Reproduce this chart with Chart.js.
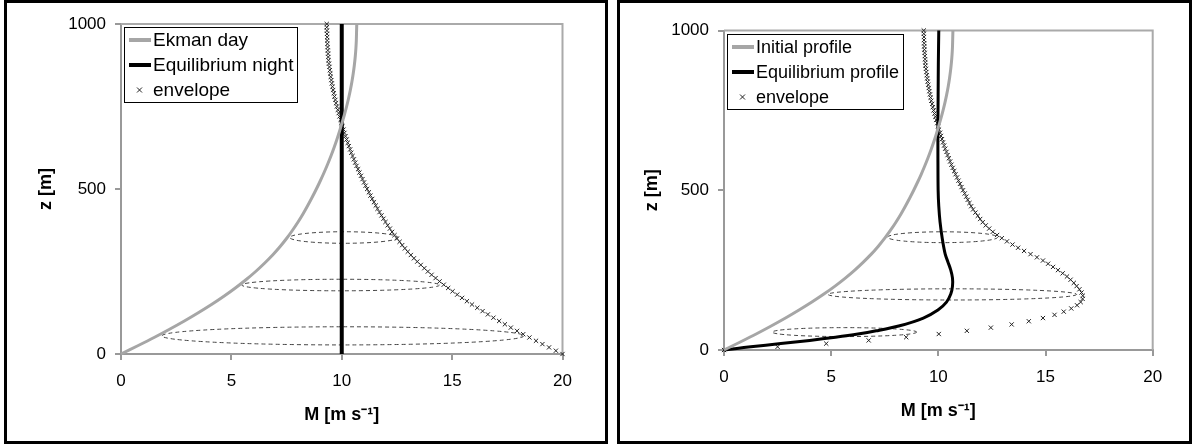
<!DOCTYPE html>
<html>
<head>
<meta charset="utf-8">
<script src="https://cdn.jsdelivr.net/npm/chart.js@4.4.0/dist/chart.umd.min.js"></script>
<style>
  html, body { margin: 0; padding: 0; background: #fff; }
  .panel { position: absolute; top: 0; height: 438px; border: 3px solid #000; background: #fff; }
  #leftBox { left: 4px; width: 598px; }
  #rightBox { left: 617px; width: 569px; }
  canvas { display: block; }
</style>
</head>
<body>
<div class="panel" id="leftBox"><canvas id="leftChart" width="598" height="438"></canvas></div>
<div class="panel" id="rightBox"><canvas id="rightChart" width="569" height="438"></canvas></div>
<script>
// tick values
const mTicks = [0, 5, 10, 15, 20];
const zTicks = [0, 500, 1000];

// heights for the smooth profiles (m)
const zLine = [0, 25, 50, 75, 100, 125, 150, 175, 200, 225, 250, 275, 300, 325, 350, 375, 400, 425, 450, 475,
  500, 525, 550, 575, 600, 625, 650, 675, 700, 725, 750, 775, 800, 825, 850, 875, 900, 925, 950, 975, 1000];
// Ekman day / initial profile (m/s)
const ekmanDay = [0, 0.76, 1.5, 2.2, 2.87, 3.5, 4.1, 4.66, 5.18, 5.66, 6.1, 6.5, 6.87, 7.2, 7.5, 7.77, 8.02, 8.25, 8.46, 8.66,
  8.85, 9.03, 9.2, 9.36, 9.51, 9.65, 9.78, 9.9, 10.01, 10.12, 10.22, 10.31, 10.39, 10.46, 10.52, 10.57, 10.61, 10.64, 10.66, 10.67, 10.68];

// equilibrium night (left)
const nightZ = [0, 1000];
const nightM = [10, 10];

// equilibrium profile (right)
const eqZ = [0, 5, 10, 20, 30, 40, 50, 60, 75, 100, 125, 150, 175, 200, 225, 250, 275, 300, 350, 400, 450, 500, 600, 700, 800, 900, 1000];
const eqM = [0, 0.6, 1.25, 2.65, 4.0, 5.2, 6.25, 7.1, 8.15, 9.3, 9.98, 10.38, 10.58, 10.66, 10.66, 10.58, 10.45, 10.32, 10.18, 10.08, 10.02, 9.99, 9.98, 9.98, 9.99, 10.0, 10.02];

// envelope heights (every 10 m)
const zEnv = [0, 10, 20, 30, 40, 50, 60, 70, 80, 90, 100, 110, 120, 130, 140, 150, 160, 170, 180, 190,
  200, 210, 220, 230, 240, 250, 260, 270, 280, 290, 300, 310, 320, 330, 340, 350, 360, 370, 380, 390,
  400, 410, 420, 430, 440, 450, 460, 470, 480, 490, 500, 510, 520, 530, 540, 550, 560, 570, 580, 590,
  600, 610, 620, 630, 640, 650, 660, 670, 680, 690, 700, 710, 720, 730, 740, 750, 760, 770, 780, 790,
  800, 810, 820, 830, 840, 850, 860, 870, 880, 890, 900, 910, 920, 930, 940, 950, 960, 970, 980, 990, 1000];
const envelopeLeft = [20, 19.7, 19.39, 19.09, 18.8, 18.5, 18.22, 17.94, 17.66, 17.39,
  17.13, 16.87, 16.62, 16.38, 16.14, 15.9, 15.67, 15.45, 15.23, 15.02,
  14.82, 14.62, 14.43, 14.25, 14.07, 13.9, 13.74, 13.58, 13.42, 13.27,
  13.13, 12.99, 12.86, 12.74, 12.62, 12.5, 12.39, 12.28, 12.18, 12.08,
  11.98, 11.89, 11.8, 11.71, 11.62, 11.54, 11.46, 11.38, 11.3, 11.23,
  11.15, 11.08, 11.01, 10.94, 10.87, 10.8, 10.74, 10.67, 10.61, 10.55,
  10.49, 10.43, 10.38, 10.32, 10.27, 10.22, 10.17, 10.12, 10.08, 10.03,
  9.99, 9.95, 9.9, 9.86, 9.82, 9.78, 9.74, 9.71, 9.67, 9.64,
  9.61, 9.58, 9.55, 9.53, 9.5, 9.48, 9.46, 9.44, 9.42, 9.4,
  9.39, 9.38, 9.37, 9.36, 9.35, 9.34, 9.34, 9.33, 9.33, 9.32, 9.32];
const envelopeRight = [0, 2.5, 4.77, 6.75, 8.5, 10.02, 11.33, 12.45, 13.42, 14.22,
  14.88, 15.42, 15.85, 16.2, 16.47, 16.64, 16.73, 16.74, 16.68, 16.58,
  16.45, 16.32, 16.17, 16.0, 15.8, 15.58, 15.35, 15.12, 14.88, 14.6,
  14.3, 14.0, 13.72, 13.46, 13.2, 12.96, 12.74, 12.54, 12.37, 12.21,
  12.07, 11.95, 11.84, 11.73, 11.62, 11.53, 11.45, 11.37, 11.3, 11.23,
  11.15, 11.08, 11.01, 10.94, 10.87, 10.8, 10.74, 10.67, 10.61, 10.55,
  10.49, 10.43, 10.38, 10.32, 10.27, 10.22, 10.17, 10.12, 10.08, 10.03,
  9.99, 9.95, 9.9, 9.86, 9.82, 9.78, 9.74, 9.71, 9.67, 9.64,
  9.61, 9.58, 9.55, 9.53, 9.5, 9.48, 9.46, 9.44, 9.42, 9.4,
  9.39, 9.38, 9.37, 9.36, 9.35, 9.34, 9.34, 9.33, 9.33, 9.32, 9.32];

// dashed ellipses: centre (M, z) and half sizes
const leftEllM = [10.1, 9.95, 10.05];
const leftEllZ = [353, 209, 55];
const leftEllHalfM = [2.45, 4.48, 8.2];
const leftEllHalfZ = [17.5, 17.5, 27.5];
const rightEllM = [10.2, 10.65, 5.62];
const rightEllZ = [353, 174, 56];
const rightEllHalfM = [2.57, 5.8, 3.37];
const rightEllHalfZ = [17, 17.5, 14];

const FONT = "'Liberation Sans', Arial, sans-serif";

function pts(xs, ys) {
  return xs.map((x, i) => ({x: x, y: ys[i]}));
}

const ellipsePlugin = {
  id: 'ellipses',
  beforeDatasetsDraw(chart, args, opts) {
    const {ctx, scales: {x, y}} = chart;
    ctx.save();
    ctx.strokeStyle = '#444';
    ctx.lineWidth = 1;
    ctx.setLineDash([4, 3]);
    opts.m.forEach((m, i) => {
      const cx = x.getPixelForValue(m);
      const cy = y.getPixelForValue(opts.z[i]);
      const rx = x.getPixelForValue(m + opts.dm[i]) - cx;
      const ry = cy - y.getPixelForValue(opts.z[i] + opts.dz[i]);
      ctx.beginPath();
      ctx.ellipse(cx, cy, rx, ry, 0, 0, Math.PI * 2);
      ctx.stroke();
    });
    ctx.restore();
  }
};

// plot frame (top/right) and the boxed legend in the top-left corner
const framePlugin = {
  id: 'frame',
  beforeDatasetsDraw(chart) {
    const {ctx, chartArea: a} = chart;
    ctx.save();
    ctx.strokeStyle = '#aaa';
    ctx.lineWidth = 2;
    ctx.beginPath();
    ctx.moveTo(a.left, a.top);
    ctx.lineTo(a.right, a.top);
    ctx.lineTo(a.right, a.bottom);
    ctx.stroke();
    ctx.restore();
  },
  afterDraw(chart, args, opts) {
    const {ctx, chartArea: a} = chart;
    const dsets = chart.data.datasets;
    ctx.save();
    ctx.font = opts.fontSize + 'px ' + FONT;
    ctx.textBaseline = 'middle';
    let maxW = 0;
    dsets.forEach((ds, i) => {
      const y = Math.round(a.top + 16 + i * 25);
      if (ds.showLine) {
        ctx.strokeStyle = ds.borderColor;
        ctx.lineWidth = 4;
        ctx.beginPath();
        ctx.moveTo(a.left + 8, y);
        ctx.lineTo(a.left + 30, y);
        ctx.stroke();
      } else {
        const cx = Math.round(a.left + 18) + 0.5;
        ctx.strokeStyle = ds.borderColor;
        ctx.lineWidth = 1;
        ctx.beginPath();
        ctx.moveTo(cx - 2.5, y - 2.5); ctx.lineTo(cx + 2.5, y + 2.5);
        ctx.moveTo(cx + 2.5, y - 2.5); ctx.lineTo(cx - 2.5, y + 2.5);
        ctx.stroke();
      }
      ctx.fillStyle = '#000';
      ctx.fillText(ds.label, a.left + 32, y + 1);
      maxW = Math.max(maxW, ctx.measureText(ds.label).width);
    });
    ctx.lineWidth = 1;
    ctx.strokeStyle = '#000';
    ctx.strokeRect(Math.round(a.left + 3) + 0.5, Math.round(a.top + 3) + 0.5, Math.round(maxW + 33), 75);
    ctx.restore();
  }
};

function makePanel(id, p) {
  return new Chart(document.getElementById(id), {
    type: 'scatter',
    data: {datasets: p.datasets},
    options: {
      responsive: false,
      animation: false,
      events: [],
      layout: {padding: {left: 0, top: p.padTop, right: p.padRight, bottom: p.padBottom}},
      scales: {
        x: {
          type: 'linear', min: 0, max: 20,
          afterBuildTicks: s => { s.ticks = mTicks.map(v => ({value: v})); },
          afterFit: s => { s.height = p.xAxisHeight; },
          grid: {drawOnChartArea: false, tickLength: 6, color: '#999', lineWidth: 2},
          border: {color: '#999', width: 2},
          ticks: {color: '#000', font: {family: FONT, size: 17}, padding: 11, maxRotation: 0,
            callback: v => String(v)},
          title: {display: true, text: 'M [m s\u207B\u00B9]', color: '#000', padding: 0,
            font: {family: FONT, size: 18, weight: 'bold'}}
        },
        y: {
          type: 'linear', min: 0, max: 1000,
          afterBuildTicks: s => { s.ticks = zTicks.map(v => ({value: v})); },
          afterFit: s => { s.width = p.yAxisWidth; },
          grid: {drawOnChartArea: false, tickLength: 6, color: '#999', lineWidth: 2},
          border: {color: '#999', width: 2},
          ticks: {color: '#000', font: {family: FONT, size: 17}, padding: p.yTickPad,
            callback: v => String(v)},
          title: {display: true, text: 'z [m]', color: '#000', padding: {top: p.yTitlePad, bottom: 0},
            font: {family: FONT, size: 18, weight: 'bold'}}
        }
      },
      plugins: {
        tooltip: {enabled: false},
        legend: {display: false},
        ellipses: p.ellipses,
        frame: {fontSize: p.legendFont}
      }
    },
    plugins: [ellipsePlugin, framePlugin]
  });
}

document.addEventListener('DOMContentLoaded', () => {
  makePanel('leftChart', {
    padTop: 21, padRight: 42.5, padBottom: 15, xAxisHeight: 72, yAxisWidth: 114, yTickPad: 9, yTitlePad: 28, legendFont: 19,
    ellipses: {m: leftEllM, z: leftEllZ, dm: leftEllHalfM, dz: leftEllHalfZ},
    datasets: [
      {label: 'Ekman day', data: pts(ekmanDay, zLine), showLine: true, borderColor: '#a6a6a6', borderWidth: 3,
        pointRadius: 0, tension: 0.3, clip: false},
      {label: 'Equilibrium night', data: pts(nightM, nightZ), showLine: true, borderColor: '#000', borderWidth: 4,
        pointRadius: 0, clip: false},
      {label: 'envelope', data: pts(envelopeLeft, zEnv), showLine: false, borderColor: '#222', backgroundColor: '#222',
        pointStyle: 'crossRot', pointRadius: 3, pointBorderWidth: 1, clip: false}
    ]
  });

  makePanel('rightChart', {
    padTop: 27.5, padRight: 36.3, padBottom: 19, xAxisHeight: 72, yAxisWidth: 104, yTickPad: 9, yTitlePad: 21, legendFont: 18,
    ellipses: {m: rightEllM, z: rightEllZ, dm: rightEllHalfM, dz: rightEllHalfZ},
    datasets: [
      {label: 'Initial profile', data: pts(ekmanDay, zLine), showLine: true, borderColor: '#a6a6a6', borderWidth: 3,
        pointRadius: 0, tension: 0.3, clip: false},
      {label: 'Equilibrium profile', data: pts(eqM, eqZ), showLine: true, borderColor: '#000', borderWidth: 3,
        pointRadius: 0, tension: 0.3, clip: false},
      {label: 'envelope', data: pts(envelopeRight, zEnv), showLine: false, borderColor: '#222', backgroundColor: '#222',
        pointStyle: 'crossRot', pointRadius: 3, pointBorderWidth: 1, clip: false}
    ]
  });
});
</script>
</body>
</html>
